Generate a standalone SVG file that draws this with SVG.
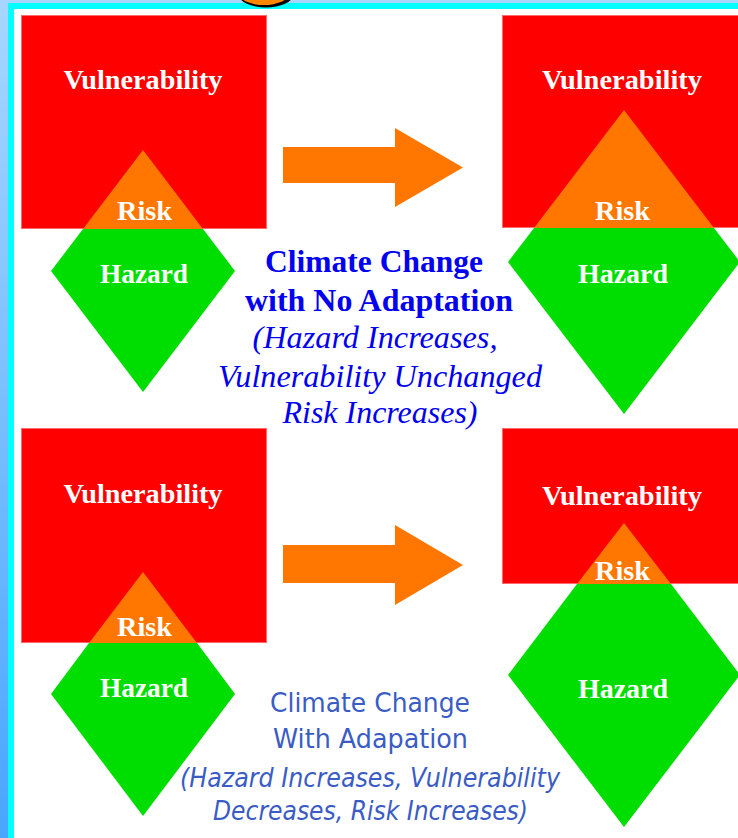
<svg xmlns="http://www.w3.org/2000/svg" width="738" height="838" viewBox="0 0 738 838">
<defs>
<linearGradient id="edge" x1="0" y1="0" x2="0" y2="1">
<stop offset="0" stop-color="#a6d6ff"/>
<stop offset="1" stop-color="#48a6ff"/>
</linearGradient>
<style>
.vul{fill:#ff0000;stroke:#ff6a6a;stroke-width:1}
.haz{fill:#00dd00}
.risk{fill:#ff7700}
.arrow{fill:#ff7700}
.lbl{font-family:"Liberation Serif","Times New Roman",serif;font-weight:bold;font-size:28px;fill:#ffffff;text-anchor:middle}
.cap1{font-family:"Liberation Serif","Times New Roman",serif;font-size:31px;fill:#0000f0;text-anchor:middle}
.cap2{font-family:"DejaVu Sans","Liberation Sans",sans-serif;font-size:26px;fill:#3a5cc4;text-anchor:middle}
</style>
</defs>
<rect x="0" y="0" width="738" height="838" fill="#ffffff"/>
<rect x="0" y="0" width="738" height="3" fill="#a6d6ff"/>
<rect x="0" y="3" width="738" height="6" fill="#00ffff"/>
<rect x="0" y="0" width="8" height="838" fill="url(#edge)"/>
<rect x="8" y="3" width="6" height="835" fill="#00ffff"/>
<ellipse cx="266" cy="-5" rx="27" ry="12.5" fill="#000000"/>
<ellipse cx="264" cy="-6" rx="24.5" ry="11" fill="#ff8800"/>

<g id="top-left">
<rect class="vul" x="21.5" y="15.5" width="245" height="213"/>
<polygon class="haz" points="83,229 203,229 235,271 143,392 51,271"/>
<polygon class="risk" points="143,150 83,229 203,229"/>
<text class="lbl" x="143" y="89" textLength="159" lengthAdjust="spacingAndGlyphs">Vulnerability</text>
<text class="lbl" x="144.5" y="220" textLength="55" lengthAdjust="spacingAndGlyphs">Risk</text>
<text class="lbl" x="144" y="283" textLength="88" lengthAdjust="spacingAndGlyphs">Hazard</text>
</g>

<g id="top-right">
<rect class="vul" x="502.5" y="15.5" width="240" height="212"/>
<polygon class="haz" points="534,228 714,228 740,262 624,414 508,262"/>
<polygon class="risk" points="624,110 534,228 714,228"/>
<text class="lbl" x="622" y="89" textLength="160" lengthAdjust="spacingAndGlyphs">Vulnerability</text>
<text class="lbl" x="622.5" y="220" textLength="55" lengthAdjust="spacingAndGlyphs">Risk</text>
<text class="lbl" x="623" y="283" textLength="90" lengthAdjust="spacingAndGlyphs">Hazard</text>
</g>

<g id="bottom-left">
<rect class="vul" x="21.5" y="428.5" width="245" height="214"/>
<polygon class="haz" points="89,643 197,643 235,694 143,816 51,694"/>
<polygon class="risk" points="143,572 89,643 197,643"/>
<text class="lbl" x="143" y="503" textLength="159" lengthAdjust="spacingAndGlyphs">Vulnerability</text>
<text class="lbl" x="144.5" y="636" textLength="55" lengthAdjust="spacingAndGlyphs">Risk</text>
<text class="lbl" x="144" y="697" textLength="88" lengthAdjust="spacingAndGlyphs">Hazard</text>
</g>

<g id="bottom-right">
<rect class="vul" x="502.5" y="428.5" width="240" height="155"/>
<polygon class="haz" points="577,584 671,584 740,675 624,827 508,675"/>
<polygon class="risk" points="624,523 577,584 671,584"/>
<text class="lbl" x="622" y="505" textLength="160" lengthAdjust="spacingAndGlyphs">Vulnerability</text>
<text class="lbl" x="622.5" y="580" textLength="55" lengthAdjust="spacingAndGlyphs">Risk</text>
<text class="lbl" x="623" y="698" textLength="90" lengthAdjust="spacingAndGlyphs">Hazard</text>
</g>

<g id="connectors">
<polygon class="arrow" points="283,147 395,147 395,128 463,167.5 395,207 395,183 283,183"/>
<polygon class="arrow" points="283,545 395,545 395,525 463,565 395,605 395,583 283,583"/>
</g>

<g id="caption-no-adaptation">
<text class="cap1" x="374" y="272" font-weight="bold" textLength="218" lengthAdjust="spacingAndGlyphs">Climate Change</text>
<text class="cap1" x="379" y="311" font-weight="bold" textLength="268" lengthAdjust="spacingAndGlyphs">with No Adaptation</text>
<text class="cap1" x="375" y="348" font-style="italic" textLength="245" lengthAdjust="spacingAndGlyphs">(Hazard Increases,</text>
<text class="cap1" x="380" y="387" font-style="italic" textLength="324" lengthAdjust="spacingAndGlyphs">Vulnerability Unchanged</text>
<text class="cap1" x="380" y="423" font-style="italic" textLength="195" lengthAdjust="spacingAndGlyphs">Risk Increases)</text>
</g>

<g id="caption-adaptation">
<text class="cap2" x="370" y="712" textLength="200" lengthAdjust="spacingAndGlyphs">Climate Change</text>
<text class="cap2" x="370.5" y="748" textLength="195" lengthAdjust="spacingAndGlyphs">With Adapation</text>
<text class="cap2" x="370" y="787" font-style="italic" textLength="380" lengthAdjust="spacingAndGlyphs">(Hazard Increases, Vulnerability</text>
<text class="cap2" x="370.5" y="820" font-style="italic" textLength="315" lengthAdjust="spacingAndGlyphs">Decreases, Risk Increases)</text>
</g>
</svg>
